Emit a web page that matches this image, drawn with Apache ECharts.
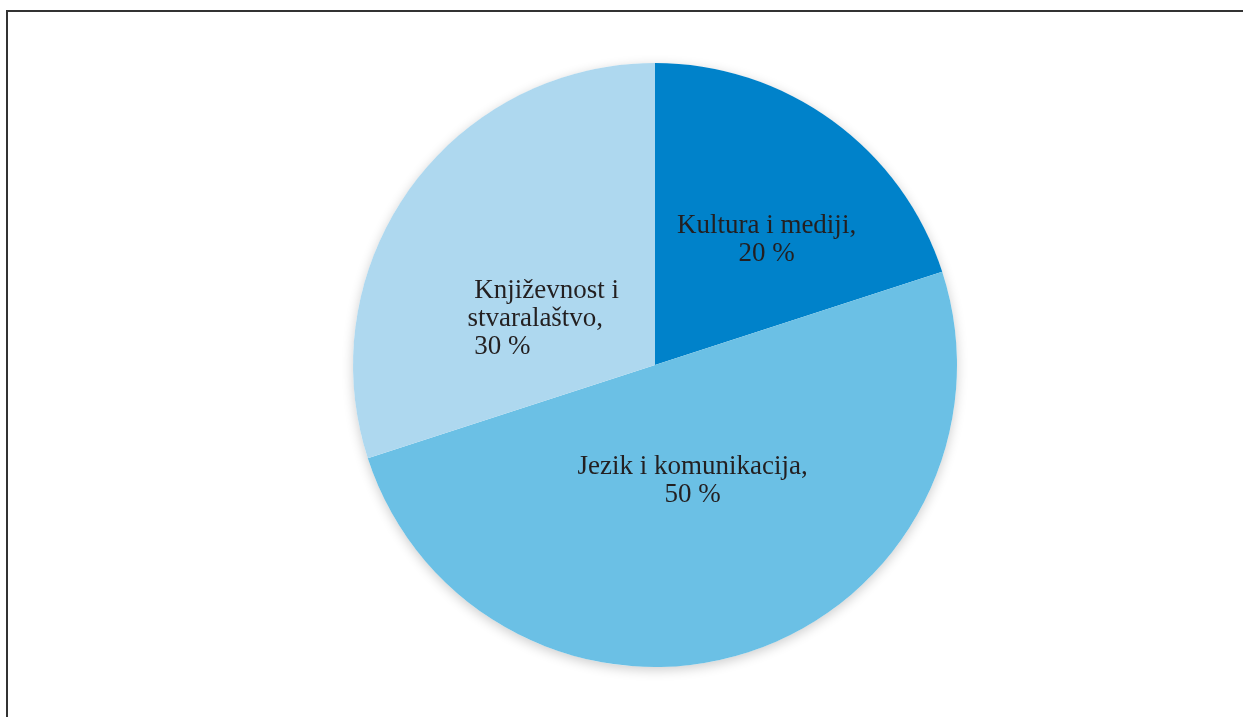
<!DOCTYPE html>
<html>
<head>
<meta charset="utf-8">
<script src="https://cdn.jsdelivr.net/npm/echarts@6/dist/echarts.min.js"></script>
<style>
html,body{margin:0;padding:0;background:#fff;}
#chart{width:1243px;height:717px;}
</style>
</head>
<body>
<div id="chart"></div>
<script>
const categories = ['Kultura i mediji', 'Jezik i komunikacija', 'Književnost i stvaralaštvo'];
const values = [20, 50, 30];
const labelTexts = ['Kultura i mediji,\n20 %', 'Jezik i komunikacija,\n50 %', ' Književnost i\nstvaralaštvo,\n 30 %'];
const colors = ['#0082CA', '#6BC0E5', '#AED8EF'];
const labelOffsets = [[21, -1], [-10, -31], [-63, 44]];
const labelAligns = ['center', 'center', 'left'];

const total = values.reduce((a, b) => a + b, 0);

const chart = echarts.init(document.getElementById('chart'), null, {renderer: 'canvas'});
chart.setOption({
  backgroundColor: '#ffffff',
  animation: false,
  graphic: [
    {type: 'line', shape: {x1: 6, y1: 11, x2: 1243, y2: 11}, style: {stroke: '#333', lineWidth: 2}},
    {type: 'line', shape: {x1: 7, y1: 10, x2: 7, y2: 717}, style: {stroke: '#333', lineWidth: 2}}
  ],
  series: [
    {
      type: 'pie',
      z: 1,
      center: [655, 365],
      radius: 302,
      silent: true,
      label: {show: false},
      labelLine: {show: false},
      itemStyle: {
        color: '#ffffff',
        shadowBlur: 12,
        shadowColor: 'rgba(0,0,0,0.2)',
        shadowOffsetX: 0,
        shadowOffsetY: 3
      },
      data: [{name: 'all', value: total}]
    },
    {
      type: 'pie',
      z: 2,
      center: [655, 365],
      radius: 302,
      startAngle: 90,
      clockwise: true,
      silent: true,
      label: {
        show: true,
        position: 'inside',
        fontFamily: 'Liberation Serif',
        fontSize: 27,
        lineHeight: 28,
        color: '#231F20'
      },
      labelLine: {show: false},
      labelLayout: function (params) {
        return {align: labelAligns[params.dataIndex]};
      },
      itemStyle: {borderWidth: 0},
      data: categories.map((c, i) => ({
        name: c,
        value: values[i],
        itemStyle: {color: colors[i]},
        label: {formatter: labelTexts[i], offset: labelOffsets[i]}
      }))
    }
  ]
});
</script>
</body>
</html>
